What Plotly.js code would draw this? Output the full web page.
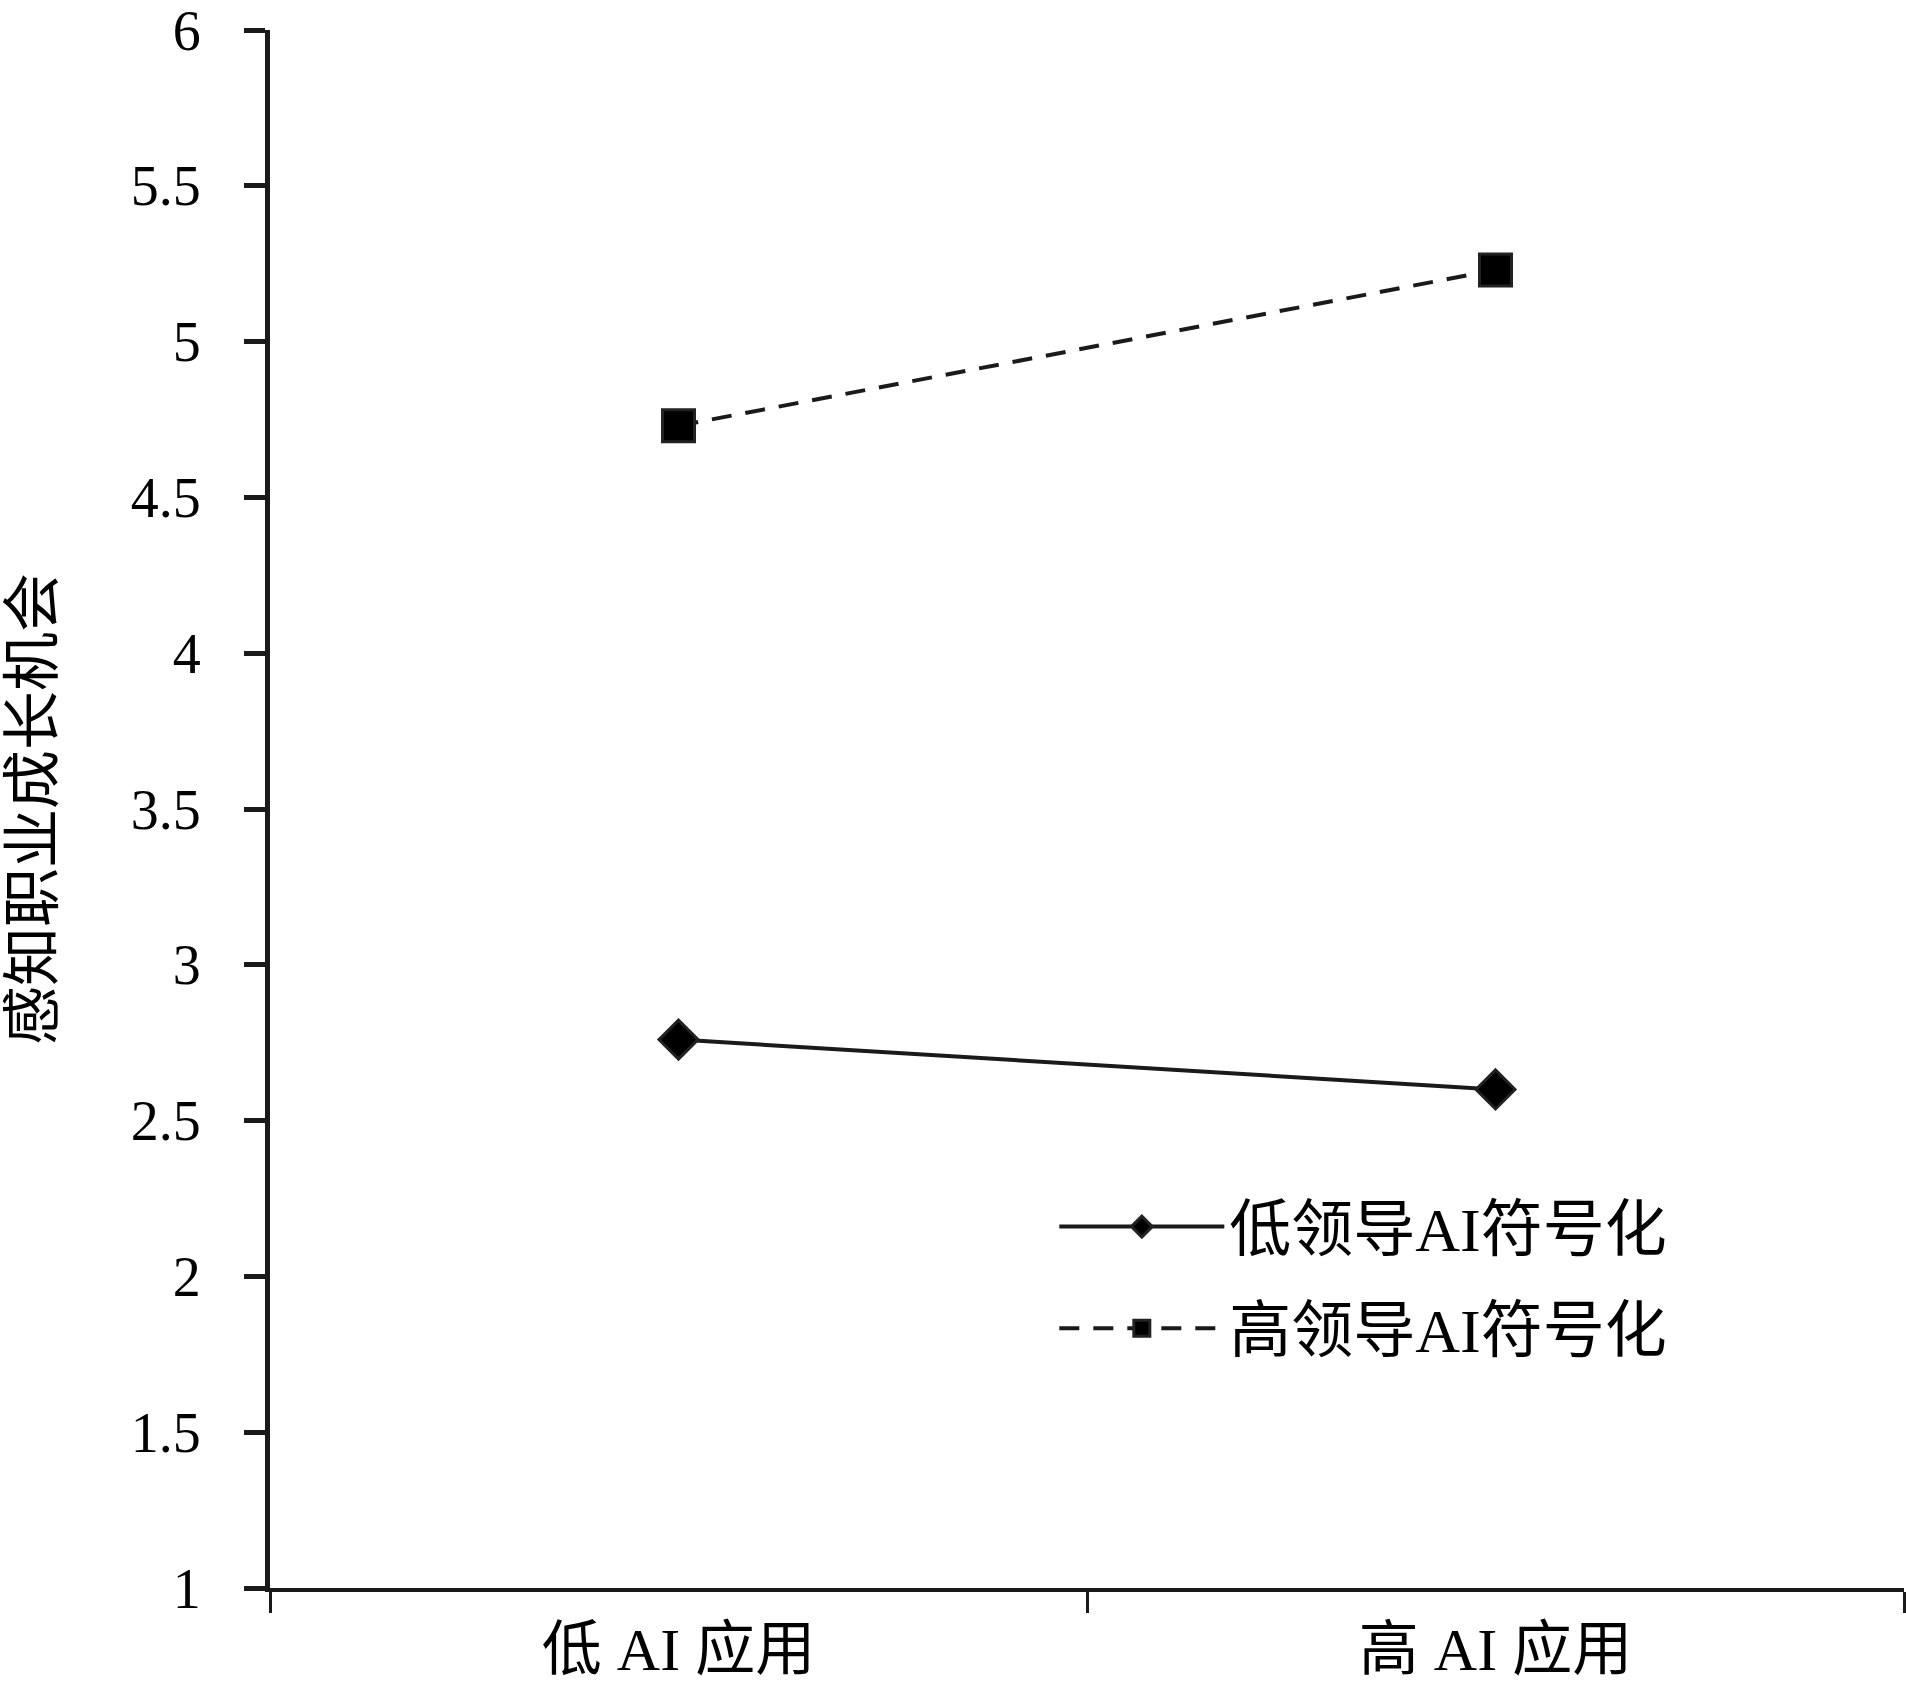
<!DOCTYPE html>
<html>
<head>
<meta charset="utf-8">
<script src="https://cdn.plot.ly/plotly-3.0.1.min.js"></script>
<style>
html,body{margin:0;padding:0;background:#fff;}
#chart{width:1906px;height:1686px;}
</style>
</head>
<body>
<div id="chart"></div>
<script>
const categories = ['低 AI 应用', '高 AI 应用'];
const seriesNames = ['低领导AI符号化', '高领导AI符号化'];
const lowSymbolValues = [2.76, 2.60];
const highSymbolValues = [4.73, 5.23];
const yTitle = '感知职业成长机会';

const fontFamily = '"Liberation Serif", "Times New Roman", "Noto Sans CJK SC", serif';
const ink = '#1a1a1a';

const traces = [
  {
    x: categories, y: lowSymbolValues, name: seriesNames[0],
    type: 'scatter', mode: 'lines+markers', legendgroup: 'a',
    line: {color: ink, width: 4},
    marker: {symbol: 'diamond', size: 30, color: '#000', line: {color: '#222', width: 3}}
  },
  {
    x: categories, y: highSymbolValues, name: seriesNames[1],
    type: 'scatter', mode: 'lines+markers', legendgroup: 'b',
    line: {color: ink, width: 4, dash: '20px,14px'},
    marker: {symbol: 'square', size: 32, color: '#000', line: {color: '#222', width: 3}}
  }
];

const layout = {
  width: 1906, height: 1686,
  paper_bgcolor: '#fff', plot_bgcolor: '#fff',
  margin: {l: 270, r: 2, t: 30, b: 98, pad: 0},
  font: {family: fontFamily, color: '#000', size: 56},
  showlegend: true,
  legend: {
    x: 0.48, y: 0.262, xanchor: 'left', yanchor: 'top',
    bgcolor: 'rgba(0,0,0,0)', borderwidth: 0,
    font: {family: fontFamily, size: 62, color: '#000'},
    itemwidth: 165, itemsizing: 'trace', traceorder: 'grouped', tracegroupgap: 18
  },
  xaxis: {
    type: 'category', range: [-0.5, 1.5],
    showline: true, linecolor: ink, linewidth: 4,
    ticks: 'outside', tickson: 'boundaries', ticklen: 21, tickwidth: 3, tickcolor: ink,
    showgrid: false, zeroline: false,
    tickfont: {family: fontFamily, size: 60, color: '#000'},
    ticklabelstandoff: 6,
    fixedrange: true
  },
  yaxis: {
    range: [1, 6], dtick: 0.5, tick0: 1,
    showline: true, linecolor: ink, linewidth: 5,
    ticks: 'outside', ticklen: 21, tickwidth: 5, tickcolor: ink,
    showgrid: false, zeroline: false,
    tickfont: {family: fontFamily, size: 56, color: '#000'},
    ticklabelstandoff: 32, ticklabeloverflow: 'allow',
    title: {text: yTitle, font: {family: fontFamily, size: 59, color: '#000'}, standoff: 76},
    fixedrange: true
  }
};

Plotly.newPlot('chart', traces, layout, {displayModeBar: false, staticPlot: true});
</script>
</body>
</html>
